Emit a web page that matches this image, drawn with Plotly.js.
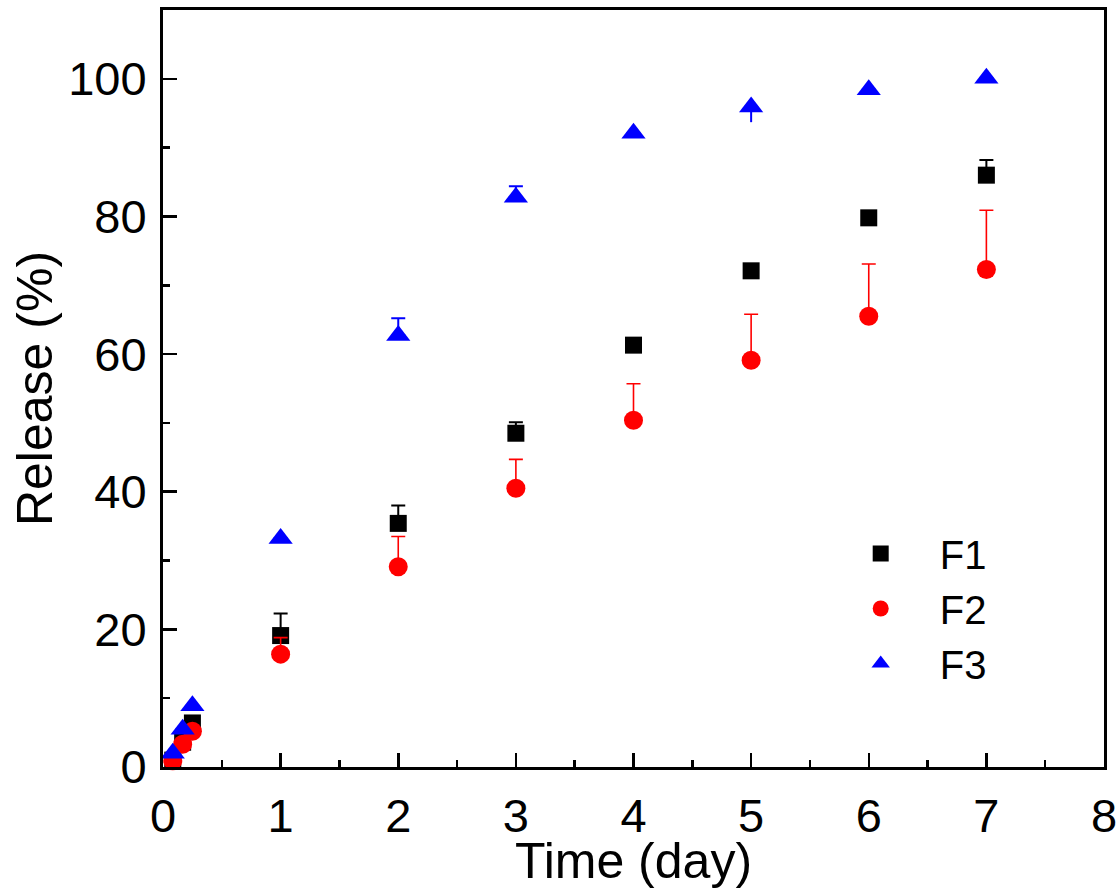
<!DOCTYPE html>
<html>
<head>
<meta charset="utf-8">
<script src="https://cdn.plot.ly/plotly-3.0.1.min.js"></script>
<style>html,body{margin:0;padding:0;background:#fff;}#chart{width:1120px;height:889px;}</style>
</head>
<body>
<div id="chart"></div>
<script>
const time = [0.083, 0.167, 0.25, 1, 2, 3, 4, 5, 6, 7];
const f1 = [1.0, 3.6, 6.4, 19.1, 35.4, 48.5, 61.3, 72.1, 79.8, 86.0];
const f1ErrPlus = [0, 0, 0, 3.2, 2.6, 1.6, 0, 0, 0, 2.2];
const f2 = [0.9, 3.3, 5.2, 16.4, 29.1, 40.5, 50.4, 59.1, 65.5, 72.3];
const f2ErrPlus = [0, 0, 0, 2.4, 4.4, 4.2, 5.3, 6.7, 7.6, 8.6];
const f3 = [2.0, 5.5, 8.9, 33.2, 62.7, 82.8, 92.1, 95.9, 98.4, 100.1];
const f3ErrPlus = [0, 0, 0, 0, 2.5, 1.6, 0, 0, 0, 0];
const f3ErrMinus = [0, 0, 0, 0, 0, 0, 0, 2.2, 0, 0];
const seriesNames = ['F1', 'F2', 'F3'];

function trace(name, y, plus, minus, color, symbol, size, ethick) {
  return {
    x: time, y: y, name: name, type: 'scatter', mode: 'markers',
    marker: {symbol: symbol, size: size, color: color, line: {width: 0}},
    error_y: {type: 'data', symmetric: false, array: plus, arrayminus: minus,
              color: color, thickness: ethick, width: 7, visible: true},
    cliponaxis: false
  };
}
const zeros = time.map(() => 0);
// F3 lower error stem (drawn without cap)
const f3Lower = {
  x: time, y: f3, type: 'scatter', mode: 'markers', showlegend: false,
  marker: {size: 0.1, color: 'rgba(0,0,255,0)'},
  error_y: {type: 'data', symmetric: false, array: zeros, arrayminus: f3ErrMinus,
            color: '#0000ff', thickness: 2, width: 0, visible: true},
  hoverinfo: 'skip'
};
const data = [
  trace(seriesNames[0], f1, f1ErrPlus, zeros, '#000000', 'square', 17, 2),
  trace(seriesNames[1], f2, f2ErrPlus, zeros, '#ff0000', 'circle', 19, 1.6),
  f3Lower,
  trace(seriesNames[2], f3, f3ErrPlus, zeros, '#0000ff', 'triangle-up', 21, 2)
];

const font = 'Arial, "Liberation Sans", sans-serif';
const layout = {
  width: 1120, height: 889,
  margin: {l: 163, r: 16, t: 10, b: 122},
  paper_bgcolor: '#fff', plot_bgcolor: '#fff',
  font: {family: font, color: '#000'},
  showlegend: true,
  legend: {x: 0.70, y: 0.325, xanchor: 'left', yanchor: 'top',
           font: {size: 40, family: font}, bgcolor: 'rgba(0,0,0,0)',
           itemwidth: 108, tracegroupgap: 0},
  xaxis: {
    range: [0, 8], dtick: 1, tick0: 0,
    showgrid: false, zeroline: false,
    showline: true, linewidth: 3, linecolor: '#000', mirror: true,
    ticks: 'inside', ticklen: 14, tickwidth: 2.5, tickcolor: '#000',
    minor: {ticks: 'inside', ticklen: 7, dtick: 0.5, tickwidth: 2.5, tickcolor: '#000', showgrid: false},
    tickfont: {size: 47, family: font},
    ticklabelstandoff: 6,
    title: {text: 'Time (day)', font: {size: 50, family: font}, standoff: 7}
  },
  yaxis: {
    range: [0, 110], dtick: 20, tick0: 0,
    showgrid: false, zeroline: false,
    showline: true, linewidth: 3, linecolor: '#000', mirror: true,
    ticks: 'inside', ticklen: 14, tickwidth: 2.5, tickcolor: '#000',
    minor: {ticks: 'inside', ticklen: 7, dtick: 10, tickwidth: 2.5, tickcolor: '#000', showgrid: false},
    tickfont: {size: 47, family: font},
    ticklabelstandoff: 4,
    title: {text: 'Release (%)', font: {size: 50, family: font}, standoff: 0}
  }
};
Plotly.newPlot('chart', data, layout, {displayModeBar: false, staticPlot: true});
</script>
</body>
</html>
